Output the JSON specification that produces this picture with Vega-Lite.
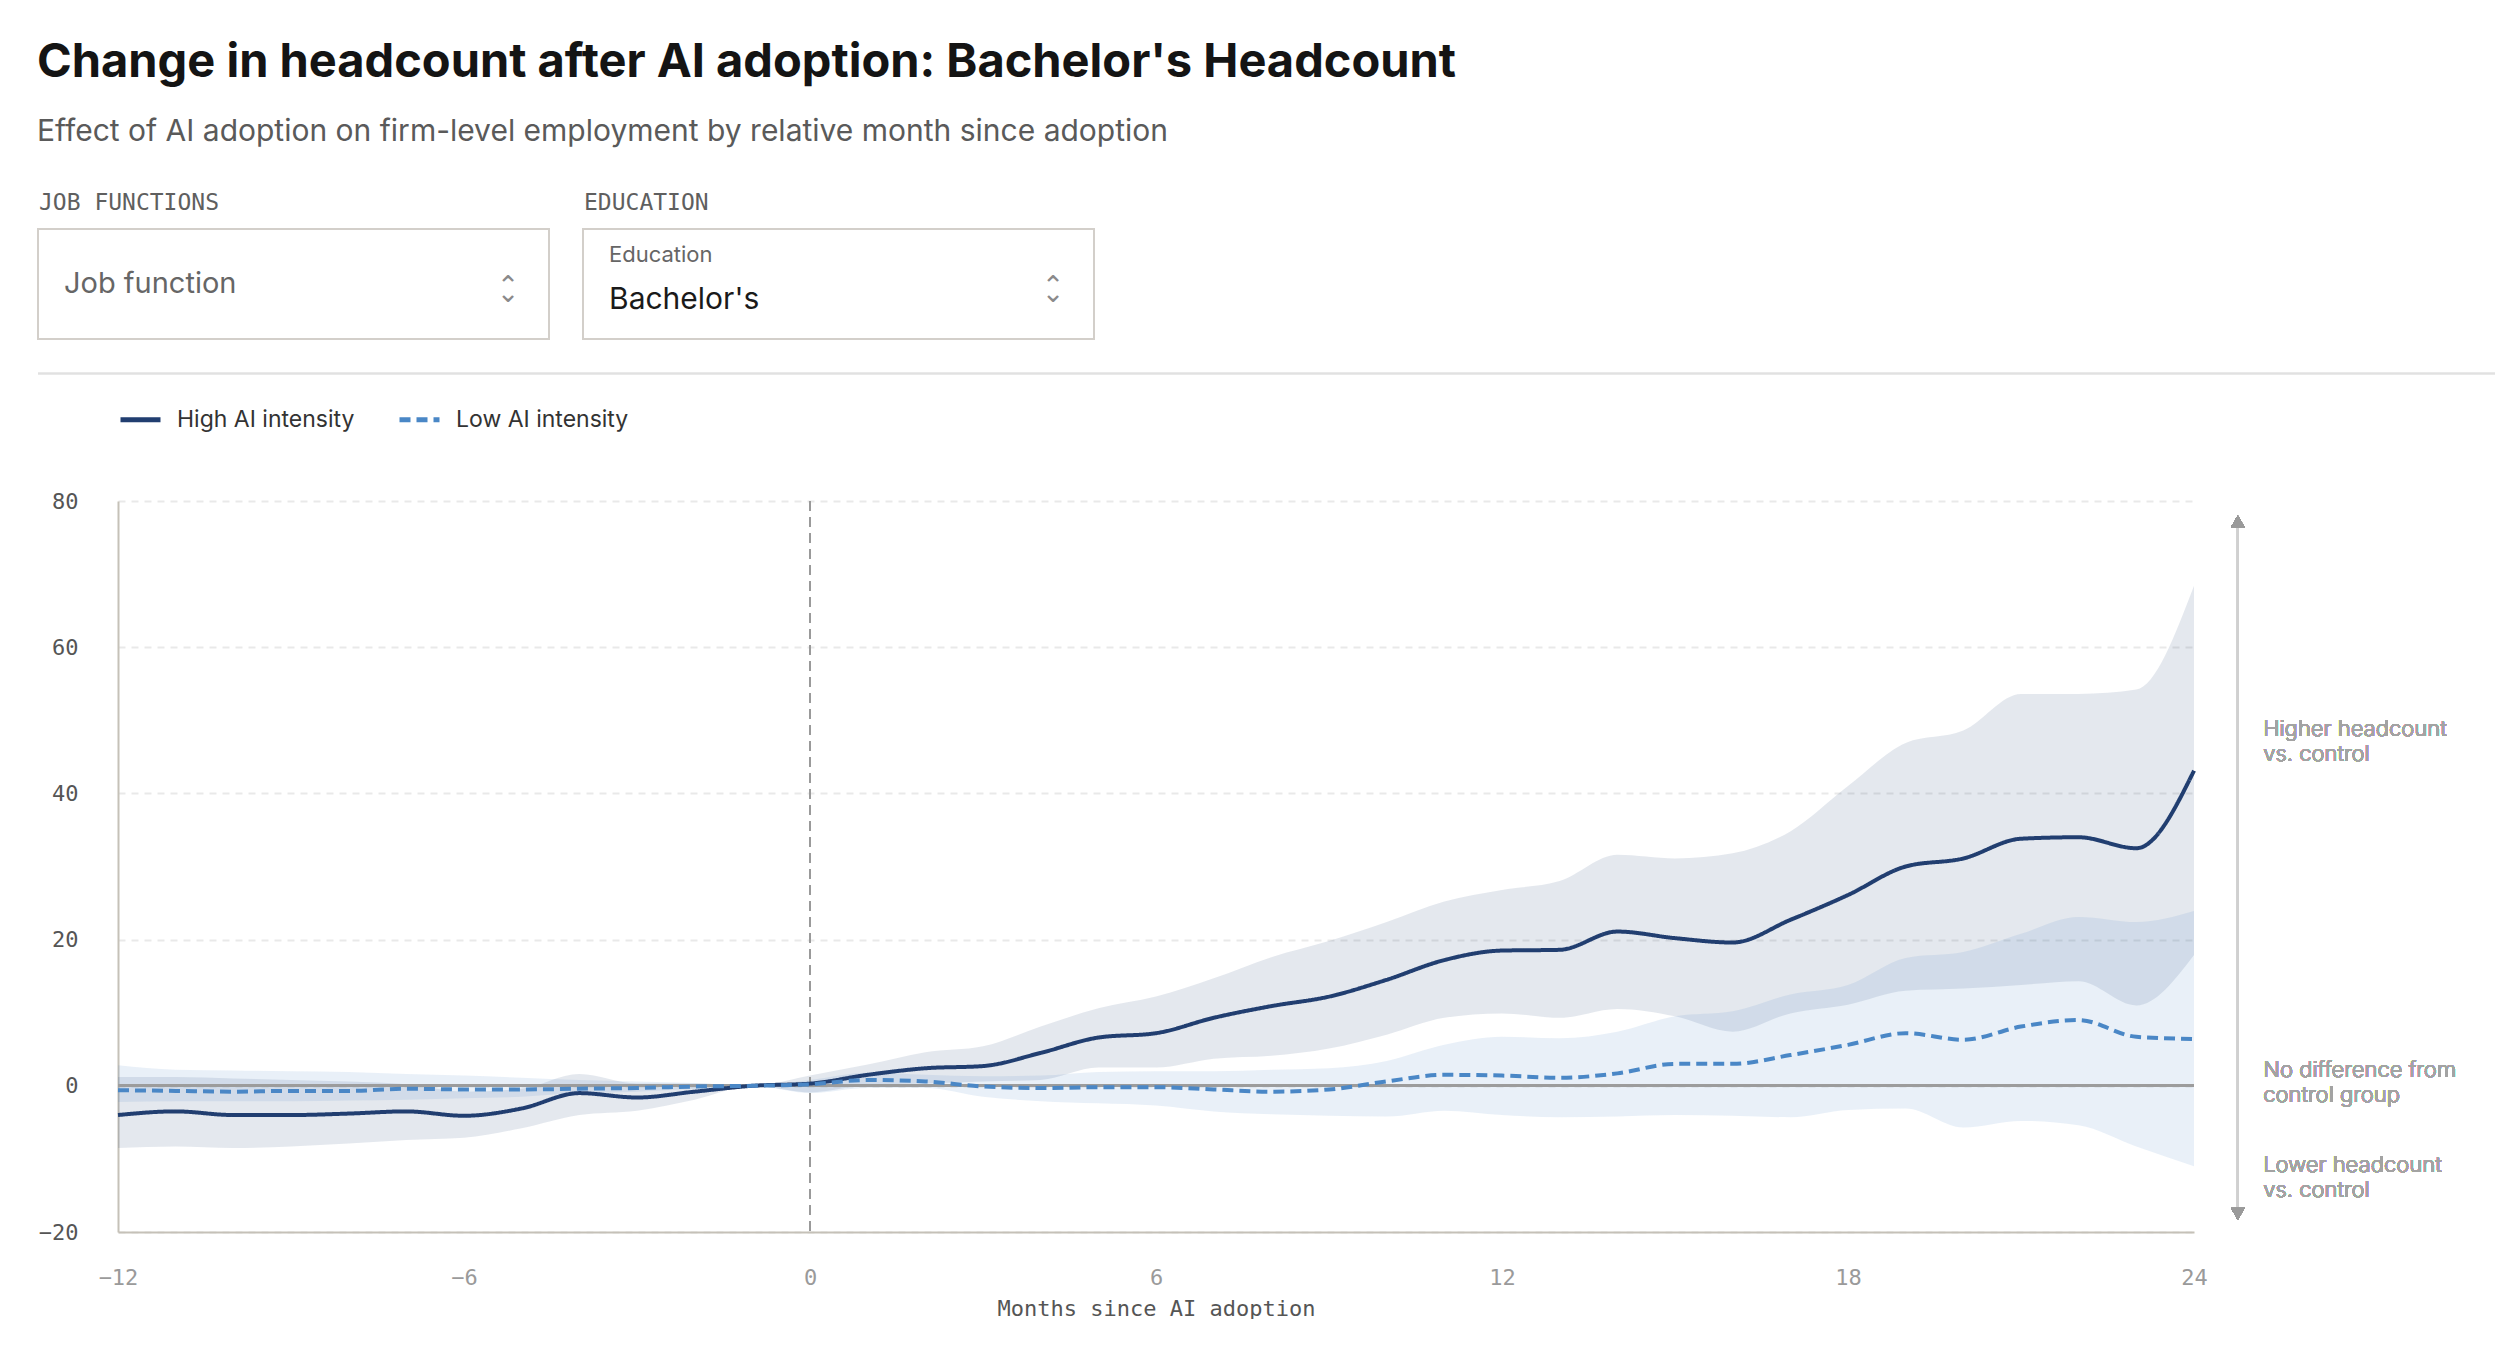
{
  "$schema": "https://vega.github.io/schema/vega-lite/v6.json",
  "description": "Change in headcount after AI adoption: Bachelor's Headcount",
  "padding": {"left": 37, "top": 38, "right": 0, "bottom": 0},
  "background": "white",
  "title": {
    "text": "Change in headcount after AI adoption: Bachelor's Headcount",
    "subtitle": "Effect of AI adoption on firm-level employment by relative month since adoption",
    "anchor": "start",
    "font": "Inter",
    "fontSize": 47,
    "fontWeight": 700,
    "color": "#141414",
    "subtitleFont": "Inter",
    "subtitleFontSize": 30,
    "subtitleColor": "#5a5a5a",
    "subtitlePadding": 30,
    "offset": 44
  },
  "spacing": 22,
  "resolve": {"scale": {"color": "independent", "strokeDash": "independent"}},
  "vconcat": [
    {
      "width": 1000,
      "height": 143,
      "data": {
        "values": [
          {"control": "JOB FUNCTIONS", "label": "", "choice": "Job function"},
          {"control": "EDUCATION", "label": "Education", "choice": "Bachelor's"}
        ]
      },
      "resolve": {"scale": {"x": "independent"}},
      "layer": [
        {
          "layer": [
            {
              "mark": {"type": "rect", "fill": "white", "stroke": "#d3cfca", "strokeWidth": 2},
              "encoding": {
                "x": {
                  "field": "control", "type": "nominal", "sort": null,
                  "scale": {"domain": ["JOB FUNCTIONS", "EDUCATION"], "range": [-80, 976], "paddingInner": 0.0624, "paddingOuter": 0},
                  "axis": null
                },
                "y": {"datum": 1, "scale": {"domain": [0, 1], "nice": false, "zero": false}, "axis": null},
                "y2": {"datum": 0.231}
              }
            },
            {
              "mark": {"type": "text", "align": "left", "baseline": "alphabetic", "dx": 1, "font": "DejaVu Sans Mono", "fontSize": 23, "color": "#5f5f5f"},
              "encoding": {
                "x": {"field": "control", "type": "nominal", "sort": null, "bandPosition": 0},
                "y": {"datum": 1.133},
                "text": {"field": "control"}
              }
            },
            {
              "transform": [{"filter": "datum.label === ''"}],
              "mark": {"type": "text", "align": "left", "baseline": "middle", "dx": 26, "font": "Inter", "fontSize": 29, "color": "#666666"},
              "encoding": {
                "x": {"field": "control", "type": "nominal", "sort": null, "bandPosition": 0},
                "y": {"datum": 0.615},
                "text": {"field": "choice"}
              }
            },
            {
              "transform": [{"filter": "datum.label !== ''"}],
              "mark": {"type": "text", "align": "left", "baseline": "middle", "dx": 26, "font": "Inter", "fontSize": 22, "color": "#666666"},
              "encoding": {
                "x": {"field": "control", "type": "nominal", "sort": null, "bandPosition": 0},
                "y": {"datum": 0.818},
                "text": {"field": "label"}
              }
            },
            {
              "transform": [{"filter": "datum.label !== ''"}],
              "mark": {"type": "text", "align": "left", "baseline": "middle", "dx": 26, "font": "Inter", "fontSize": 30, "color": "#1a1a1a"},
              "encoding": {
                "x": {"field": "control", "type": "nominal", "sort": null, "bandPosition": 0},
                "y": {"datum": 0.503},
                "text": {"field": "choice"}
              }
            },
            {
              "mark": {"type": "text", "align": "center", "baseline": "middle", "dx": -41, "font": "DejaVu Sans", "fontSize": 27, "lineHeight": 7, "color": "#8a8a8a"},
              "encoding": {
                "x": {"field": "control", "type": "nominal", "sort": null, "bandPosition": 1},
                "y": {"datum": 0.595},
                "text": {"value": ["⌃", "⌄"]}
              }
            }
          ]
        },
        {
          "mark": {"type": "rule", "color": "#e1e1e1", "strokeWidth": 2},
          "encoding": {
            "x": {"datum": 0, "scale": {"domain": [0, 1], "range": [-80, 2377]}, "axis": null},
            "x2": {"datum": 1},
            "y": {"datum": -0.01}
          }
        }
      ]
    },
    {
      "width": 2076,
      "height": 731,
      "data": {
        "values": [
          {"month": -12, "series": "High AI intensity", "value": -4.0, "lower": -8.5, "upper": 1.2},
          {"month": -11, "series": "High AI intensity", "value": -3.5, "lower": -8.3, "upper": 1.2},
          {"month": -10, "series": "High AI intensity", "value": -4.0, "lower": -8.5, "upper": 1.0},
          {"month": -9, "series": "High AI intensity", "value": -4.0, "lower": -8.3, "upper": 0.8},
          {"month": -8, "series": "High AI intensity", "value": -3.8, "lower": -7.9, "upper": 0.6},
          {"month": -7, "series": "High AI intensity", "value": -3.5, "lower": -7.4, "upper": 0.2},
          {"month": -6, "series": "High AI intensity", "value": -4.1, "lower": -7.1, "upper": -0.8},
          {"month": -5, "series": "High AI intensity", "value": -3.1, "lower": -5.8, "upper": -0.4},
          {"month": -4, "series": "High AI intensity", "value": -1.0, "lower": -4.0, "upper": 1.6},
          {"month": -3, "series": "High AI intensity", "value": -1.6, "lower": -3.4, "upper": 0.3},
          {"month": -2, "series": "High AI intensity", "value": -0.8, "lower": -1.9, "upper": 0.3},
          {"month": -1, "series": "High AI intensity", "value": 0.0, "lower": 0.0, "upper": 0.0},
          {"month": 0, "series": "High AI intensity", "value": 0.3, "lower": -0.9, "upper": 1.4},
          {"month": 1, "series": "High AI intensity", "value": 1.5, "lower": 0.1, "upper": 2.9},
          {"month": 2, "series": "High AI intensity", "value": 2.4, "lower": 0.3, "upper": 4.6},
          {"month": 3, "series": "High AI intensity", "value": 2.7, "lower": 0.6, "upper": 5.4},
          {"month": 4, "series": "High AI intensity", "value": 4.5, "lower": 0.8, "upper": 8.1},
          {"month": 5, "series": "High AI intensity", "value": 6.6, "lower": 2.5, "upper": 10.6},
          {"month": 6, "series": "High AI intensity", "value": 7.2, "lower": 2.5, "upper": 12.2},
          {"month": 7, "series": "High AI intensity", "value": 9.3, "lower": 3.7, "upper": 14.7},
          {"month": 8, "series": "High AI intensity", "value": 10.9, "lower": 4.1, "upper": 17.6},
          {"month": 9, "series": "High AI intensity", "value": 12.2, "lower": 5.1, "upper": 19.8},
          {"month": 10, "series": "High AI intensity", "value": 14.5, "lower": 7.0, "upper": 22.4},
          {"month": 11, "series": "High AI intensity", "value": 17.2, "lower": 9.3, "upper": 25.2},
          {"month": 12, "series": "High AI intensity", "value": 18.5, "lower": 9.9, "upper": 26.8},
          {"month": 13, "series": "High AI intensity", "value": 18.6, "lower": 9.3, "upper": 28.0},
          {"month": 14, "series": "High AI intensity", "value": 21.1, "lower": 10.5, "upper": 31.6},
          {"month": 15, "series": "High AI intensity", "value": 20.2, "lower": 9.5, "upper": 31.1},
          {"month": 16, "series": "High AI intensity", "value": 19.6, "lower": 7.4, "upper": 31.8},
          {"month": 17, "series": "High AI intensity", "value": 22.7, "lower": 9.9, "upper": 34.8},
          {"month": 18, "series": "High AI intensity", "value": 26.1, "lower": 11.1, "upper": 41.0},
          {"month": 19, "series": "High AI intensity", "value": 30.0, "lower": 13.0, "upper": 46.9},
          {"month": 20, "series": "High AI intensity", "value": 31.1, "lower": 13.3, "upper": 48.6},
          {"month": 21, "series": "High AI intensity", "value": 33.8, "lower": 13.8, "upper": 53.6},
          {"month": 22, "series": "High AI intensity", "value": 34.0, "lower": 14.3, "upper": 53.6},
          {"month": 23, "series": "High AI intensity", "value": 32.5, "lower": 11.0, "upper": 54.2},
          {"month": 24, "series": "High AI intensity", "value": 43.1, "lower": 17.9, "upper": 68.4},
          {"month": -12, "series": "Low AI intensity", "value": -0.6, "lower": -2.2, "upper": 2.8},
          {"month": -11, "series": "Low AI intensity", "value": -0.7, "lower": -2.1, "upper": 2.2},
          {"month": -10, "series": "Low AI intensity", "value": -0.8, "lower": -2.1, "upper": 2.1},
          {"month": -9, "series": "Low AI intensity", "value": -0.7, "lower": -2.1, "upper": 2.0},
          {"month": -8, "series": "Low AI intensity", "value": -0.7, "lower": -2.0, "upper": 1.9},
          {"month": -7, "series": "Low AI intensity", "value": -0.4, "lower": -1.9, "upper": 1.6},
          {"month": -6, "series": "Low AI intensity", "value": -0.5, "lower": -1.7, "upper": 1.4},
          {"month": -5, "series": "Low AI intensity", "value": -0.5, "lower": -1.5, "upper": 1.1},
          {"month": -4, "series": "Low AI intensity", "value": -0.4, "lower": -1.0, "upper": 0.8},
          {"month": -3, "series": "Low AI intensity", "value": -0.3, "lower": -0.8, "upper": 0.6},
          {"month": -2, "series": "Low AI intensity", "value": -0.1, "lower": -0.4, "upper": 0.4},
          {"month": -1, "series": "Low AI intensity", "value": 0.0, "lower": 0.0, "upper": 0.0},
          {"month": 0, "series": "Low AI intensity", "value": 0.2, "lower": -1.0, "upper": 0.8},
          {"month": 1, "series": "Low AI intensity", "value": 0.8, "lower": -0.3, "upper": 1.8},
          {"month": 2, "series": "Low AI intensity", "value": 0.6, "lower": -0.3, "upper": 1.5},
          {"month": 3, "series": "Low AI intensity", "value": -0.1, "lower": -1.5, "upper": 1.3},
          {"month": 4, "series": "Low AI intensity", "value": -0.3, "lower": -2.1, "upper": 1.4},
          {"month": 5, "series": "Low AI intensity", "value": -0.2, "lower": -2.4, "upper": 1.9},
          {"month": 6, "series": "Low AI intensity", "value": -0.2, "lower": -2.7, "upper": 2.0},
          {"month": 7, "series": "Low AI intensity", "value": -0.5, "lower": -3.5, "upper": 2.0},
          {"month": 8, "series": "Low AI intensity", "value": -0.8, "lower": -3.9, "upper": 2.2},
          {"month": 9, "series": "Low AI intensity", "value": -0.5, "lower": -4.1, "upper": 2.4},
          {"month": 10, "series": "Low AI intensity", "value": 0.6, "lower": -4.2, "upper": 3.4},
          {"month": 11, "series": "Low AI intensity", "value": 1.5, "lower": -3.4, "upper": 5.6},
          {"month": 12, "series": "Low AI intensity", "value": 1.4, "lower": -4.0, "upper": 6.7},
          {"month": 13, "series": "Low AI intensity", "value": 1.1, "lower": -4.3, "upper": 6.5},
          {"month": 14, "series": "Low AI intensity", "value": 1.7, "lower": -4.2, "upper": 7.4},
          {"month": 15, "series": "Low AI intensity", "value": 3.0, "lower": -4.0, "upper": 9.5},
          {"month": 16, "series": "Low AI intensity", "value": 3.0, "lower": -4.1, "upper": 10.2},
          {"month": 17, "series": "Low AI intensity", "value": 4.2, "lower": -4.3, "upper": 12.5},
          {"month": 18, "series": "Low AI intensity", "value": 5.6, "lower": -3.3, "upper": 13.8},
          {"month": 19, "series": "Low AI intensity", "value": 7.2, "lower": -3.1, "upper": 17.5},
          {"month": 20, "series": "Low AI intensity", "value": 6.3, "lower": -5.7, "upper": 18.3},
          {"month": 21, "series": "Low AI intensity", "value": 8.1, "lower": -4.8, "upper": 20.8},
          {"month": 22, "series": "Low AI intensity", "value": 9.0, "lower": -5.4, "upper": 23.1},
          {"month": 23, "series": "Low AI intensity", "value": 6.7, "lower": -8.3, "upper": 22.4},
          {"month": 24, "series": "Low AI intensity", "value": 6.4, "lower": -11.0, "upper": 23.9}
        ]
      },
      "layer": [
        {
          "transform": [{"filter": "datum.series === 'High AI intensity'"}],
          "mark": {"type": "area", "interpolate": "monotone", "color": "#213e70", "fillOpacity": 0.12},
          "encoding": {
            "x": {
              "field": "month", "type": "quantitative",
              "scale": {"domain": [-12, 24], "nice": false, "zero": false},
              "axis": {
                "values": [-12, -6, 0, 6, 12, 18, 24], "format": "d",
                "grid": false, "ticks": false, "labelFlush": false,
                "domainColor": "#c5c1b8", "domainWidth": 2,
                "labelFont": "DejaVu Sans Mono", "labelFontSize": 22, "labelColor": "#9a9a9a", "labelPadding": 35,
                "title": "Months since AI adoption",
                "titleFont": "DejaVu Sans Mono", "titleFontSize": 22, "titleFontWeight": "normal", "titleColor": "#555555", "titlePadding": 10
              }
            },
            "y": {
              "field": "lower", "type": "quantitative",
              "scale": {"domain": [-20, 80], "nice": false, "zero": false},
              "axis": {
                "values": [-20, 0, 20, 40, 60, 80], "format": "d",
                "title": null, "ticks": false,
                "domainColor": "#c5c1b8", "domainWidth": 2,
                "grid": true, "gridColor": "#e9e9e9", "gridWidth": 2, "gridDash": [7, 6],
                "labelFont": "DejaVu Sans Mono", "labelFontSize": 22, "labelColor": "#555555", "labelPadding": 40
              }
            },
            "y2": {"field": "upper"}
          }
        },
        {
          "transform": [{"filter": "datum.series === 'Low AI intensity'"}],
          "mark": {"type": "area", "interpolate": "monotone", "color": "#4a87c6", "fillOpacity": 0.12},
          "encoding": {
            "x": {"field": "month", "type": "quantitative"},
            "y": {"field": "lower", "type": "quantitative"},
            "y2": {"field": "upper"}
          }
        },
        {
          "mark": {"type": "rule", "color": "#9c9c9c", "strokeWidth": 2},
          "encoding": {"y": {"datum": 0}}
        },
        {
          "mark": {"type": "rule", "color": "#9a9a9a", "strokeWidth": 2, "strokeDash": [10, 6]},
          "encoding": {"x": {"datum": 0}}
        },
        {
          "mark": {"type": "line", "interpolate": "monotone", "strokeWidth": 4},
          "encoding": {
            "x": {"field": "month", "type": "quantitative"},
            "y": {"field": "value", "type": "quantitative"},
            "color": {
              "field": "series", "type": "nominal",
              "scale": {"domain": ["High AI intensity", "Low AI intensity"], "range": ["#213e70", "#4a87c6"]},
              "legend": {
                "orient": "top", "offset": 69, "direction": "horizontal", "title": null,
                "symbolType": "stroke", "symbolSize": 1600, "symbolStrokeWidth": 5,
                "labelFont": "Inter", "labelFontSize": 23, "labelColor": "#333333", "labelLimit": 500,
                "labelOffset": 14, "columnPadding": 34, "padding": 0
              }
            },
            "strokeDash": {
              "field": "series", "type": "nominal",
              "scale": {"domain": ["High AI intensity", "Low AI intensity"], "range": [[1, 0], [11, 6]]},
              "legend": {
                "orient": "top", "offset": 69, "direction": "horizontal", "title": null,
                "symbolType": "stroke", "symbolSize": 1600, "symbolStrokeWidth": 5,
                "labelFont": "Inter", "labelFontSize": 23, "labelColor": "#333333", "labelLimit": 500,
                "labelOffset": 14, "columnPadding": 34, "padding": 0
              }
            }
          }
        },
        {
          "mark": {"type": "rule", "color": "#d0d0d0", "strokeWidth": 2},
          "encoding": {"x": {"datum": 24.76}, "y": {"datum": 77.2}, "y2": {"datum": -17.5}}
        },
        {
          "mark": {"type": "point", "shape": "triangle-up", "filled": true, "size": 190, "color": "#9a9a9a", "opacity": 1},
          "encoding": {"x": {"datum": 24.76}, "y": {"datum": 77.2}}
        },
        {
          "mark": {"type": "point", "shape": "triangle-down", "filled": true, "size": 190, "color": "#9a9a9a", "opacity": 1},
          "encoding": {"x": {"datum": 24.76}, "y": {"datum": -17.5}}
        },
        {
          "mark": {"type": "text", "align": "left", "baseline": "alphabetic", "font": "Inter", "fontSize": 22, "fontWeight": 300, "lineHeight": 25, "color": "#a3a3a3"},
          "encoding": {"x": {"datum": 25.2}, "y": {"datum": 47.8}, "text": {"value": ["Higher headcount", "vs. control"]}}
        },
        {
          "mark": {"type": "text", "align": "left", "baseline": "alphabetic", "font": "Inter", "fontSize": 22, "fontWeight": 300, "lineHeight": 25, "color": "#a3a3a3"},
          "encoding": {"x": {"datum": 25.2}, "y": {"datum": 1.27}, "text": {"value": ["No difference from", "control group"]}}
        },
        {
          "mark": {"type": "text", "align": "left", "baseline": "alphabetic", "font": "Inter", "fontSize": 22, "fontWeight": 300, "lineHeight": 25, "color": "#a3a3a3"},
          "encoding": {"x": {"datum": 25.2}, "y": {"datum": -11.8}, "text": {"value": ["Lower headcount", "vs. control"]}}
        }
      ]
    }
  ],
  "config": {
    "view": {"stroke": null},
    "font": "Inter"
  }
}
